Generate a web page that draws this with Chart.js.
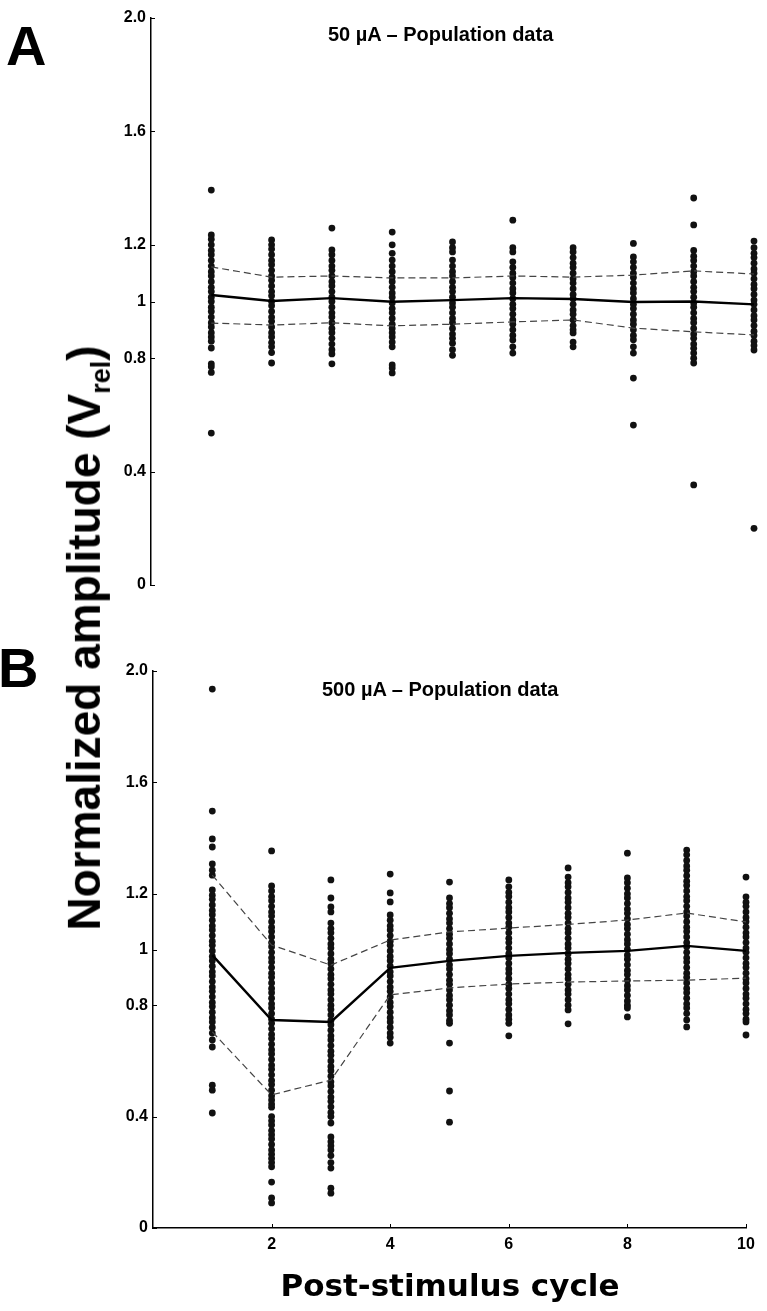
<!DOCTYPE html>
<html>
<head>
<meta charset="utf-8">
<script src="https://cdn.jsdelivr.net/npm/chart.js@4.4.1/dist/chart.umd.min.js"></script>
<style>
  body { margin: 0; background: #fff; }
  #page { position: relative; width: 767px; height: 1311px; overflow: hidden; font-family: "Liberation Sans", Arial, sans-serif; }
  canvas { position: absolute; left: 0; }
  .lbl { position: absolute; font-weight: bold; line-height: 1; white-space: nowrap; color: #000; }
</style>
</head>
<body>
<div id="page">
  <canvas id="panelA" width="767" height="620" style="top:0"></canvas>
  <canvas id="panelB" width="767" height="681" style="top:630px"></canvas>
  <div class="lbl" style="left:6px;top:18px;font-size:56px">A</div>
  <div class="lbl" style="left:-2px;top:640px;font-size:56px">B</div>
  <div class="lbl" style="left:328px;top:24px;font-size:20px">50 µA – Population data</div>
  <div class="lbl" style="left:322px;top:679px;font-size:20px">500 µA – Population data</div>
  <div class="lbl" style="left:88px;top:638px;font-size:46px;transform:translate(-50%,-50%) rotate(-90deg)">Normalized amplitude (V<sub style="font-size:27px">rel</sub>)</div>
  <div class="lbl" style="left:450px;top:1285px;font-size:31px;font-family:'DejaVu Sans';transform:translate(-50%,-50%)">Post-stimulus cycle</div>
</div>
<script>
const cycles = [1, 2, 3, 4, 5, 6, 7, 8, 9, 10];
const yTickValues = [0, 0.4, 0.8, 1, 1.2, 1.6, 2];
const yTickLabels = ["0", "0.4", "0.8", "1", "1.2", "1.6", "2.0"];
const xTickValues = [2, 4, 6, 8, 10];

// 50 uA, one array per cycle
const ampA = [
  [1.393, 1.235, 1.22, 1.2, 1.18, 1.165, 1.145, 1.125, 1.105, 1.09, 1.07, 1.05, 1.035, 1.015, 1.0, 0.98, 0.965, 0.945, 0.925, 0.91, 0.89, 0.875, 0.86, 0.836, 0.78, 0.77, 0.75, 0.536],
  [1.217, 1.2, 1.185, 1.165, 1.145, 1.13, 1.11, 1.09, 1.075, 1.055, 1.035, 1.02, 1.0, 0.985, 0.965, 0.945, 0.93, 0.91, 0.89, 0.875, 0.855, 0.84, 0.82, 0.783],
  [1.259, 1.182, 1.165, 1.145, 1.125, 1.11, 1.09, 1.07, 1.055, 1.035, 1.015, 1.0, 0.98, 0.96, 0.945, 0.925, 0.905, 0.89, 0.87, 0.85, 0.83, 0.815, 0.78],
  [1.245, 1.2, 1.17, 1.146, 1.125, 1.105, 1.085, 1.07, 1.05, 1.03, 1.015, 0.995, 0.975, 0.96, 0.94, 0.92, 0.905, 0.89, 0.875, 0.857, 0.84, 0.776, 0.765, 0.748],
  [1.21, 1.19, 1.175, 1.146, 1.125, 1.105, 1.09, 1.07, 1.05, 1.035, 1.015, 0.995, 0.98, 0.96, 0.94, 0.925, 0.905, 0.885, 0.87, 0.853, 0.83, 0.81],
  [1.287, 1.19, 1.175, 1.14, 1.12, 1.1, 1.085, 1.065, 1.045, 1.03, 1.01, 0.99, 0.975, 0.955, 0.935, 0.92, 0.9, 0.88, 0.864, 0.84, 0.818],
  [1.19, 1.175, 1.155, 1.135, 1.12, 1.1, 1.08, 1.065, 1.045, 1.025, 1.01, 0.99, 0.97, 0.955, 0.935, 0.915, 0.9, 0.889, 0.857, 0.84],
  [1.205, 1.157, 1.14, 1.12, 1.1, 1.085, 1.065, 1.045, 1.03, 1.01, 0.99, 0.975, 0.955, 0.935, 0.92, 0.9, 0.88, 0.865, 0.84, 0.818, 0.73, 0.564],
  [1.365, 1.27, 1.18, 1.16, 1.145, 1.125, 1.105, 1.09, 1.07, 1.05, 1.035, 1.015, 0.995, 0.98, 0.96, 0.94, 0.925, 0.905, 0.885, 0.87, 0.85, 0.835, 0.818, 0.8, 0.783, 0.353],
  [1.213, 1.19, 1.17, 1.155, 1.135, 1.115, 1.1, 1.08, 1.06, 1.045, 1.025, 1.005, 0.99, 0.97, 0.95, 0.935, 0.915, 0.895, 0.88, 0.86, 0.845, 0.829, 0.2]
];
const meanA = [1.023, 1.002, 1.012, 0.999, 1.005, 1.012, 1.009, 0.998, 1.0, 0.99];
const upperA = [1.122, 1.086, 1.09, 1.083, 1.083, 1.09, 1.086, 1.093, 1.108, 1.097];
const lowerA = [0.924, 0.917, 0.925, 0.914, 0.92, 0.928, 0.935, 0.906, 0.893, 0.882];

// 500 uA, one array per cycle
const ampB = [
  [1.935, 1.497, 1.397, 1.368, 1.307, 1.285, 1.267, 1.214, 1.195, 1.18, 1.16, 1.14, 1.125, 1.105, 1.085, 1.07, 1.05, 1.03, 1.015, 0.995, 0.975, 0.96, 0.94, 0.92, 0.905, 0.885, 0.865, 0.85, 0.83, 0.81, 0.795, 0.775, 0.755, 0.74, 0.72, 0.7, 0.675, 0.65, 0.513, 0.495, 0.413],
  [1.354, 1.228, 1.21, 1.19, 1.175, 1.155, 1.135, 1.12, 1.1, 1.08, 1.065, 1.045, 1.025, 1.01, 0.99, 0.97, 0.955, 0.935, 0.915, 0.9, 0.88, 0.86, 0.845, 0.825, 0.805, 0.79, 0.77, 0.75, 0.735, 0.715, 0.695, 0.68, 0.66, 0.64, 0.625, 0.605, 0.585, 0.57, 0.55, 0.53, 0.515, 0.495, 0.475, 0.46, 0.445, 0.434, 0.4, 0.385, 0.37, 0.35, 0.335, 0.32, 0.3, 0.28, 0.265, 0.25, 0.235, 0.22, 0.165, 0.108, 0.09],
  [1.25, 1.185, 1.153, 1.135, 1.095, 1.075, 1.06, 1.04, 1.02, 1.005, 0.985, 0.965, 0.95, 0.93, 0.91, 0.895, 0.875, 0.855, 0.84, 0.82, 0.8, 0.785, 0.765, 0.745, 0.73, 0.71, 0.69, 0.675, 0.655, 0.635, 0.62, 0.6, 0.58, 0.565, 0.545, 0.525, 0.51, 0.49, 0.47, 0.455, 0.435, 0.415, 0.4, 0.377, 0.327, 0.31, 0.295, 0.28, 0.26, 0.235, 0.215, 0.143, 0.125],
  [1.271, 1.203, 1.171, 1.124, 1.105, 1.085, 1.07, 1.05, 1.03, 1.015, 0.995, 0.975, 0.96, 0.94, 0.92, 0.905, 0.885, 0.865, 0.85, 0.83, 0.81, 0.795, 0.775, 0.755, 0.74, 0.72, 0.7, 0.685, 0.664],
  [1.242, 1.185, 1.165, 1.15, 1.13, 1.11, 1.095, 1.075, 1.055, 1.04, 1.02, 1.0, 0.985, 0.965, 0.945, 0.93, 0.91, 0.89, 0.875, 0.855, 0.835, 0.82, 0.8, 0.78, 0.765, 0.745, 0.735, 0.664, 0.492, 0.38],
  [1.25, 1.225, 1.205, 1.19, 1.17, 1.15, 1.135, 1.115, 1.095, 1.08, 1.06, 1.04, 1.025, 1.005, 0.985, 0.97, 0.95, 0.93, 0.915, 0.895, 0.875, 0.86, 0.84, 0.82, 0.805, 0.785, 0.765, 0.75, 0.735, 0.69],
  [1.293, 1.26, 1.24, 1.225, 1.205, 1.185, 1.17, 1.15, 1.13, 1.115, 1.095, 1.075, 1.06, 1.04, 1.02, 1.005, 0.985, 0.965, 0.95, 0.93, 0.91, 0.895, 0.875, 0.855, 0.84, 0.82, 0.8, 0.783, 0.733],
  [1.346, 1.257, 1.24, 1.22, 1.2, 1.185, 1.165, 1.145, 1.13, 1.11, 1.09, 1.075, 1.055, 1.035, 1.02, 1.0, 0.98, 0.965, 0.945, 0.925, 0.91, 0.89, 0.87, 0.855, 0.835, 0.815, 0.8, 0.79, 0.758],
  [1.357, 1.34, 1.32, 1.3, 1.285, 1.265, 1.245, 1.23, 1.21, 1.19, 1.175, 1.155, 1.135, 1.12, 1.1, 1.08, 1.065, 1.045, 1.025, 1.01, 0.99, 0.97, 0.955, 0.935, 0.915, 0.9, 0.88, 0.86, 0.845, 0.825, 0.805, 0.79, 0.77, 0.747, 0.722],
  [1.26, 1.189, 1.17, 1.155, 1.135, 1.115, 1.1, 1.08, 1.06, 1.045, 1.025, 1.005, 0.99, 0.97, 0.95, 0.935, 0.915, 0.895, 0.88, 0.86, 0.84, 0.825, 0.805, 0.785, 0.77, 0.75, 0.74, 0.693]
];
const meanB = [0.98, 0.747, 0.74, 0.934, 0.959, 0.977, 0.988, 0.995, 1.013, 0.995];
const upperB = [1.267, 1.016, 0.944, 1.034, 1.063, 1.077, 1.09, 1.106, 1.131, 1.099];
const lowerB = [0.704, 0.478, 0.531, 0.837, 0.862, 0.876, 0.883, 0.887, 0.89, 0.897];

const tickFont = { family: "'Liberation Sans', Arial, sans-serif", size: 16, weight: "bold" };

// small tick marks pointing into the plot, like the original figure
const innerTicks = {
  id: "innerTicks",
  afterDraw(chart) {
    const ctx = chart.ctx;
    const area = chart.chartArea;
    ctx.save();
    ctx.strokeStyle = "#000";
    ctx.lineWidth = 1;
    const ys = chart.scales.y;
    ys.ticks.forEach(t => {
      const py = Math.round(ys.getPixelForValue(t.value)) + 0.5;
      ctx.beginPath();
      ctx.moveTo(area.left, py);
      ctx.lineTo(area.left + 4, py);
      ctx.stroke();
    });
    const xs = chart.scales.x;
    if (xs.options.display) {
      xs.ticks.forEach(t => {
        const px = Math.round(xs.getPixelForValue(t.value)) + 0.5;
        ctx.beginPath();
        ctx.moveTo(px, area.bottom);
        ctx.lineTo(px, area.bottom - 4);
        ctx.stroke();
      });
    }
    ctx.restore();
  }
};

function toPoints(values, i) {
  return values.map(v => ({ x: cycles[i], y: v }));
}

function lineData(vals) {
  return vals.map((v, i) => ({ x: cycles[i], y: v }));
}

function makePanel(id, amps, mean, upper, lower, opts) {
  const ctx = document.getElementById(id).getContext("2d");
  const dots = amps.flatMap((vals, i) => toPoints(vals, i));
  const config = {
    type: "scatter",
    data: {
      datasets: [
        {
          data: lineData(mean),
          showLine: true,
          borderColor: "#000",
          borderWidth: 2.4,
          pointRadius: 0,
          clip: false
        },
        {
          data: lineData(upper),
          showLine: true,
          borderColor: "#444",
          borderWidth: 1.2,
          borderDash: [7, 4],
          pointRadius: 0,
          clip: false
        },
        {
          data: lineData(lower),
          showLine: true,
          borderColor: "#444",
          borderWidth: 1.2,
          borderDash: [7, 4],
          pointRadius: 0,
          clip: false
        },
        {
          data: dots,
          pointRadius: 3.4,
          pointBackgroundColor: "#111",
          pointBorderWidth: 0,
          clip: false
        }
      ]
    },
    options: {
      responsive: false,
      animation: false,
      layout: { padding: opts.padding },
      plugins: { legend: { display: false }, tooltip: { enabled: false } },
      scales: {
        x: {
          type: "linear",
          min: 0,
          max: 10,
          display: opts.showX,
          afterFit(scale) { if (opts.showX) scale.height = 40; },
          afterBuildTicks(scale) { scale.ticks = xTickValues.map(v => ({ value: v })); },
          grid: { display: true, drawOnChartArea: false, drawTicks: false },
          border: { display: true, color: "#000", width: 1.5 },
          ticks: { font: tickFont, color: "#000", padding: 7, maxRotation: 0 }
        },
        y: {
          type: "linear",
          min: 0,
          max: 2,
          afterFit(scale) { scale.width = opts.yWidth; },
          afterBuildTicks(scale) { scale.ticks = yTickValues.map(v => ({ value: v })); },
          grid: { display: true, drawOnChartArea: false, drawTicks: false },
          border: { display: true, color: "#000", width: 1.5 },
          ticks: {
            font: tickFont,
            color: "#000",
            padding: 5,
            callback: (v) => yTickLabels[yTickValues.indexOf(v)]
          }
        }
      }
    },
    plugins: [innerTicks]
  };
  return new Chart(ctx, config);
}

window.onload = function () {
  makePanel("panelA", ampA, meanA, upperA, lowerA, {
    showX: false,
    yWidth: 151,
    padding: { left: 0, top: 18, right: 13, bottom: 35 }
  });
  makePanel("panelB", ampB, meanB, upperB, lowerB, {
    showX: true,
    yWidth: 153,
    padding: { left: 0, top: 41, right: 21, bottom: 43 }
  });
};
</script>
</body>
</html>
